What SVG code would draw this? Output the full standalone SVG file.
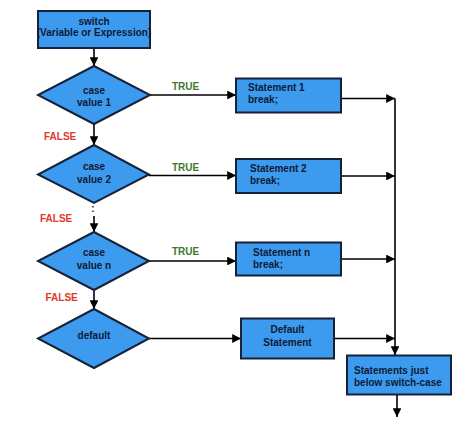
<svg xmlns="http://www.w3.org/2000/svg" width="474" height="432" viewBox="0 0 474 432">
<style>
.box{fill:#3d9bef;stroke:#16213a;stroke-width:2}
.t{font-family:"Liberation Sans",Arial,sans-serif;font-weight:bold;font-size:10px;fill:#0d1a36}
.c{text-anchor:middle}
.tr{font-family:"Liberation Sans",Arial,sans-serif;font-weight:bold;font-size:10px;fill:#3f7a2c}
.fa{font-family:"Liberation Sans",Arial,sans-serif;font-weight:bold;font-size:10px;fill:#e0382a}
.ln{fill:none;stroke:#000;stroke-width:1.6;marker-end:url(#ah)}
</style>
<defs>
<marker id="ah" viewBox="0 0 10 10" refX="10" refY="5" markerWidth="5.5" markerHeight="5.5" orient="auto" markerUnits="strokeWidth">
<path d="M0,0 L10,5 L0,10 z" fill="#000"/>
</marker>
</defs>
<rect width="474" height="432" fill="#fff"/>
<g id="connectors">
<path class="ln" d="M94,48 V66"/>
<path class="ln" d="M94,124 V145"/>
<path class="ln" d="M94,216 V232"/>
<path class="ln" d="M94,290 V309"/>
<path class="ln" d="M150,95 H236"/>
<path class="ln" d="M149,175.5 H236"/>
<path class="ln" d="M149,261 H236"/>
<path class="ln" d="M149,338.5 H241"/>
<path class="ln" d="M341,98.5 H395"/>
<path class="ln" d="M341,176 H395"/>
<path class="ln" d="M341,259 H395"/>
<path class="ln" d="M334,338.5 H395"/>
<path class="ln" d="M395,98.5 V355"/>
<path class="ln" d="M397,394.5 V417"/>
<text class="t c" x="93" y="212" font-size="9">:</text>
<text class="tr" x="172" y="90">TRUE</text>
<text class="tr" x="172" y="170.5">TRUE</text>
<text class="tr" x="172" y="254.5">TRUE</text>
<text class="fa" x="44" y="140">FALSE</text>
<text class="fa" x="40" y="221.5">FALSE</text>
<text class="fa" x="45.5" y="301">FALSE</text>
</g>
<g id="switch">
<rect class="box" x="38" y="11" width="112" height="37"/>
<text class="t c" x="94" y="24.5" font-size="8.7">switch</text>
<text class="t c" x="94" y="36" font-size="8.7">(Variable or Expression)</text>
</g>
<g id="case1">
<polygon class="box" points="94,66 150,95 94,124 38,95"/>
<text class="t c" x="94" y="93.5">case</text>
<text class="t c" x="94" y="105.5">value 1</text>
</g>
<g id="case2">
<polygon class="box" points="94,145 149,174.5 94,203 38,174.5"/>
<text class="t c" x="94" y="170">case</text>
<text class="t c" x="94" y="182.5">value 2</text>
</g>
<g id="casen">
<polygon class="box" points="94,232 149,261 94,290 38,261"/>
<text class="t c" x="94" y="256">case</text>
<text class="t c" x="94" y="268.5">value n</text>
</g>
<g id="default">
<polygon class="box" points="94,309 149,338.5 94,368 38,338.5"/>
<text class="t c" x="94" y="339">default</text>
</g>
<g id="stmt1">
<rect class="box" x="236" y="78.5" width="105" height="34"/>
<text class="t" x="248" y="90.5">Statement 1</text>
<text class="t" x="248" y="103">break;</text>
</g>
<g id="stmt2">
<rect class="box" x="236" y="159" width="105" height="34"/>
<text class="t" x="250" y="171.5">Statement 2</text>
<text class="t" x="250" y="184">break;</text>
</g>
<g id="stmtn">
<rect class="box" x="236" y="242.5" width="105" height="33"/>
<text class="t" x="253" y="255.5">Statement n</text>
<text class="t" x="253" y="268">break;</text>
</g>
<g id="defstmt">
<rect class="box" x="241" y="318.5" width="93" height="40"/>
<text class="t c" x="287.5" y="333">Default</text>
<text class="t c" x="287.5" y="345.5">Statement</text>
</g>
<g id="after">
<rect class="box" x="347" y="355.5" width="104" height="39"/>
<text class="t" x="354" y="373.5">Statements just</text>
<text class="t" x="354" y="386">below switch-case</text>
</g>
</svg>
